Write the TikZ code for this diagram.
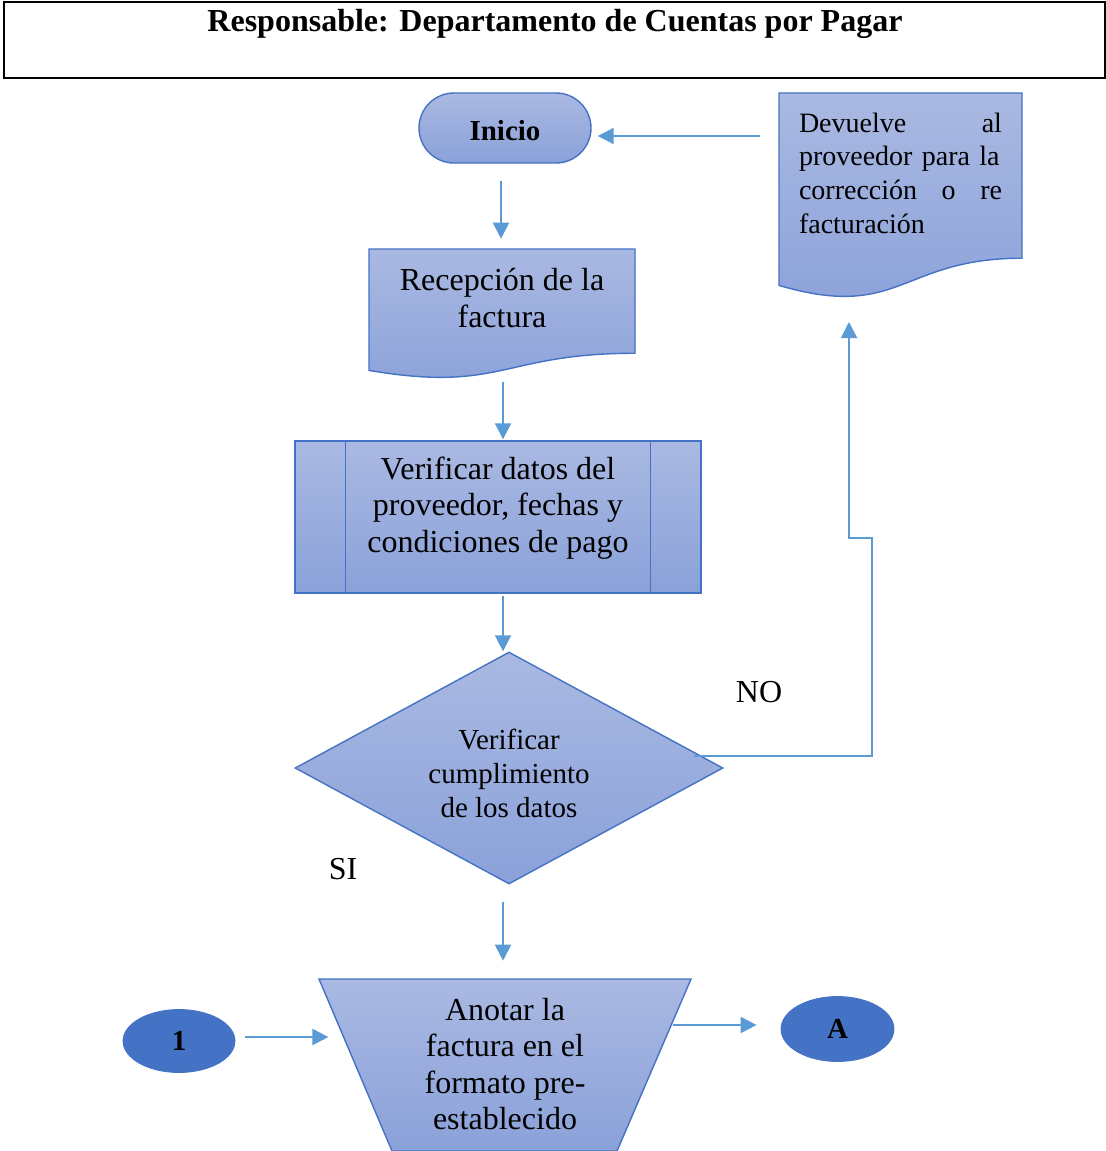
\documentclass[tikz,border=0pt]{standalone}
\usepackage{fontspec}
\setmainfont{Liberation Serif}
\usetikzlibrary{arrows.meta,shapes.geometric,shapes.misc,calc}

\definecolor{azulborde}{HTML}{4472C4}
\definecolor{azulflecha}{HTML}{5B9BD5}
\definecolor{azulclaro}{HTML}{AAB9E2}
\definecolor{azulmedio}{HTML}{8AA1D9}

\tikzset{
  relleno/.style={top color=azulclaro, bottom color=azulmedio, draw=azulborde, line width=0.7pt},
  flecha/.style={draw=azulflecha, line width=1pt, -{Triangle[length=8pt,width=8pt]}},
  letra/.style={font=\fontsize{16}{18.3}\selectfont, align=center, inner sep=0pt},
  letrachica/.style={font=\fontsize{14.5}{17}\selectfont, align=center, inner sep=0pt},
  conector/.style={ellipse, fill=azulborde, draw=azulborde, inner sep=0pt, font=\fontsize{14.5}{17}\selectfont\bfseries},
}

% hoja: esquina superior izquierda, ancho, alto
\newcommand{\hoja}[4]{%
  \path[relleno] (#1,#2) -- ({#1+#3},#2) -- ({#1+#3},{#2+0.802*#4})
    .. controls ({#1+0.5*#3},{#2+0.802*#4}) and ({#1+0.5*#3},{#2+1.1075*#4}) .. (#1,{#2+0.934*#4}) -- cycle;}

\begin{document}
\begin{tikzpicture}[x=0.5pt,y=-0.5pt]
\useasboundingbox (0,0) rectangle (1106,1151);

% encabezado
\node[draw, line width=1pt, minimum width=550.5pt, minimum height=38pt, inner sep=0pt] (marco) at (554.5,40) {};
\node[font=\fontsize{16}{18}\selectfont\bfseries, inner sep=0pt] (titulo) at (555,24) {Responsable: Departamento de Cuentas por Pagar};

% inicio
\node[rounded rectangle, relleno, minimum width=86pt, minimum height=35pt, inner sep=0pt, text height=12.6pt, text depth=0pt, font=\fontsize{14.5}{17}\selectfont\bfseries] (inicio) at (505,128) {Inicio};

% recepcion de la factura
\hoja{369}{249}{266}{130}
\node[letra] (recep) at (502,298) {Recepción de la\\factura};

% verificar datos
\node[rectangle, relleno, minimum width=203pt, minimum height=76pt, inner sep=0pt] (verif) at (498,517) {};
\draw[azulborde, line width=0.7pt] ($(verif.north west)+(51,0)$) -- ($(verif.south west)+(51,0)$);
\draw[azulborde, line width=0.7pt] ($(verif.north east)+(-51,0)$) -- ($(verif.south east)+(-51,0)$);
\node[letra] (veriftxt) at (498,508) {Verificar datos del\\proveedor, fechas y\\condiciones de pago};

% decision
\node[diamond, relleno, minimum width=214pt, minimum height=116pt, inner sep=0pt] (dec) at (509,768) {};
\node[letrachica] (dectxt) at (509,773) {Verificar\\cumplimiento\\de los datos};
\node[letra] (no) at (759,692) {NO};
\node[letra] (si) at (343,869) {SI};

% anotar la factura
\path[relleno] (319,979) -- (691,979) -- (617,1151) -- (392,1151) -- cycle;
\node[letra] (anotar) at (505,1064) {Anotar la\\factura en el\\formato pre-\\establecido};

% conectores de pagina
\node[conector, minimum width=56pt, minimum height=31.5pt] (uno) at (179,1041) {1};
\node[conector, minimum width=56.5pt, minimum height=32.5pt] (letraA) at (837.5,1029) {A};

% devuelve al proveedor
\hoja{779}{93}{243}{206}
\node[letrachica, font=\fontsize{14}{16.85}\selectfont, align=left, text width=101.5pt] (devuelve) at (900.5,173) {Devuelve\hfill al\\proveedor para la\\corrección\hfill o\hfill re\\facturación};
\coordinate (retorno) at (849,322);

% flechas
\draw[flecha] ($(inicio.south)+(-4,17)$) -- ($(inicio.south)+(-4,75)$);
\draw[flecha] ($(verif.north)+(5,-58)$) -- ($(verif.north)+(5,-1)$);
\draw[flecha] ($(verif.south)+(5,2)$) -- ($(dec.north)+(-6,0)$);
\draw[flecha] ($(dec.south)+(-6,17)$) -- ($(dec.south)+(-6,76)$);
\draw[flecha] ($(uno.east)+(10,-4)$) -- ($(uno.east)+(93,-4)$);
\draw[flecha] ($(letraA.west)+(-108,-4)$) -- ($(letraA.west)+(-24,-4)$);
\draw[flecha] ($(inicio.east)+(168,8)$) -- ($(inicio.east)+(6,8)$);
\draw[flecha] ($(dec.east)+(-30,-12)$) -| (872,538) -| (retorno);
\end{tikzpicture}
\end{document}
